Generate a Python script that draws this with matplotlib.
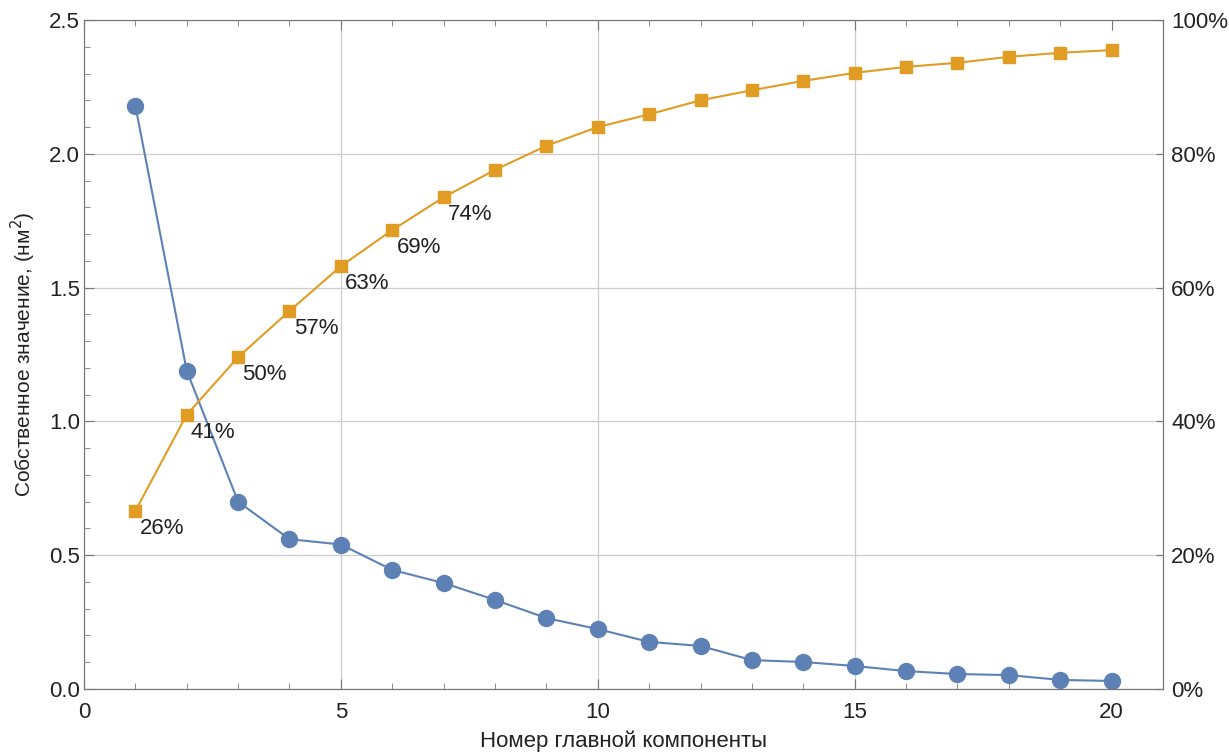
import matplotlib.pyplot as plt
from matplotlib.ticker import MultipleLocator, FuncFormatter

plt.rcParams['font.family'] = ['Liberation Sans', 'DejaVu Sans']

components = list(range(1, 21))
eigenvalues = [2.18, 1.19, 0.70, 0.56, 0.54, 0.445, 0.396, 0.333, 0.265, 0.224,
               0.176, 0.161, 0.108, 0.101, 0.086, 0.067, 0.056, 0.052, 0.034, 0.030]
cumulative = [26.6, 41.0, 49.6, 56.5, 63.2, 68.6, 73.5, 77.6, 81.2, 84.0,
              85.9, 88.0, 89.5, 90.9, 92.1, 93.0, 93.6, 94.5, 95.1, 95.5]
labels = ["26%", "41%", "50%", "57%", "63%", "69%", "74%"]
x_grid = [5, 10, 15]

blue = "#5E81B5"
orange = "#E19C24"
frame = "#777777"
fs = 16

fig = plt.figure(figsize=(12.29, 7.55), dpi=100)
ax = fig.add_axes([0.0683, 0.0874, 0.8780, 0.8861])
ax2 = ax.twinx()

ax.plot(components, eigenvalues, "-o", color=blue, lw=1.5, ms=11.5,
        markeredgecolor=blue, zorder=3)
ax2.plot(components, cumulative, "-s", color=orange, lw=1.5, ms=8,
         markeredgecolor=orange, zorder=3)
for x, y, t in zip(components, cumulative, labels):
    ax2.annotate(t, (x, y), xytext=(3, -5), textcoords="offset points",
                 ha="left", va="top", fontsize=fs, color="#222222")

ax.set_xlim(0, 21)
ax.set_ylim(0, 2.5)
ax2.set_ylim(0, 100)

ax.xaxis.set_major_locator(MultipleLocator(5))
ax.xaxis.set_minor_locator(MultipleLocator(1))
ax.yaxis.set_major_locator(MultipleLocator(0.5))
ax.yaxis.set_minor_locator(MultipleLocator(0.1))
ax.yaxis.set_major_formatter(FuncFormatter(lambda v, p: "%.1f" % v))
ax2.yaxis.set_major_locator(MultipleLocator(20))
ax2.yaxis.set_major_formatter(FuncFormatter(lambda v, p: "%d%%" % v))

# grid: horizontal at major y ticks, vertical only at 5, 10, 15
ax.grid(True, axis="y", which="major", color="#cccccc", lw=0.9)
for gx in x_grid:
    ax.axvline(gx, color="#cccccc", lw=0.9, zorder=0)
ax.set_axisbelow(True)

ax.tick_params(axis="both", which="both", direction="in", top=True, right=False,
               colors=frame, labelcolor="#222222", labelsize=fs)
ax.tick_params(which="major", length=7)
ax.tick_params(which="minor", length=4)
ax.tick_params(axis="x", pad=9)
ax.tick_params(axis="y", pad=3)
ax2.tick_params(axis="y", direction="in", length=5, colors=frame,
                labelcolor="#222222", labelsize=fs, pad=6)

for a in (ax, ax2):
    for s in a.spines.values():
        s.set_color(frame)

ax.set_xlabel("Номер главной компоненты", fontsize=fs, color="#222222", labelpad=6)
ax.set_ylabel("Собственное значение, (нм$^2$)", fontsize=15, color="#222222", labelpad=8)

fig.savefig("out.png", dpi=100)
